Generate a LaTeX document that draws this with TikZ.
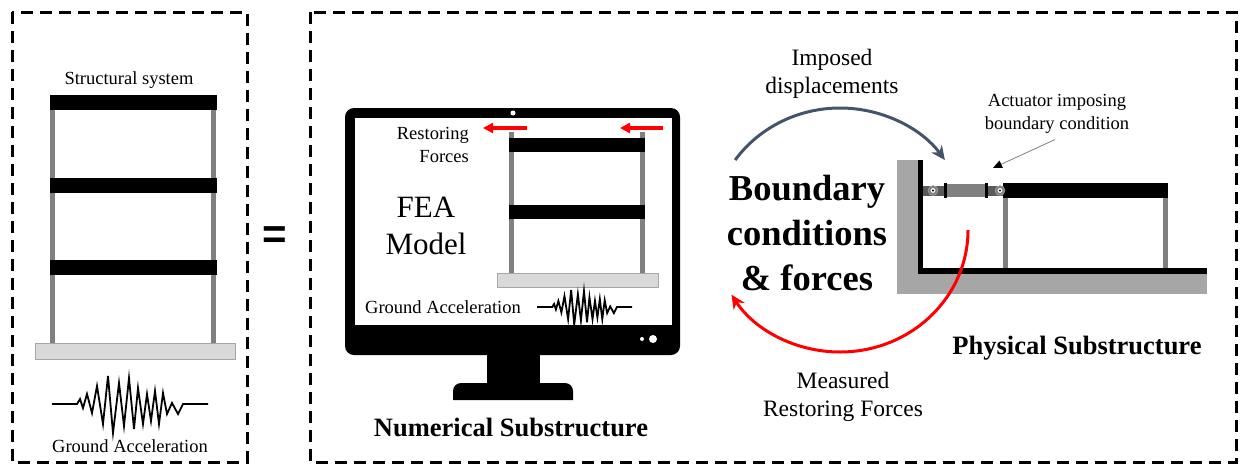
\documentclass[tikz,border=0pt]{standalone}
\usepackage{fontspec}
\setmainfont{Liberation Serif}
\setsansfont{Liberation Sans}
\usetikzlibrary{arrows.meta}

\definecolor{slateBlue}{HTML}{44546A}
\definecolor{colGray}{HTML}{808080}
\definecolor{baseGray}{HTML}{D9D9D9}
\definecolor{wallGray}{HTML}{A6A6A6}
\definecolor{rodGray}{HTML}{5A5A5A}

%% ground motion trace, drawn at (#1,#2) and scaled by #3
\newcommand{\quakeline}[3]{%
  \draw[waveLine,shift={(#1,#2)},scale=#3] plot coordinates {
    (0,0) (25,0) (28,-5) (31,4) (35,-10) (40,9) (45,-18) (51,20)
    (56,-28) (61,29) (67,-21) (72,22) (77,-26) (82,25) (86,-16)
    (91,20) (95,-10) (99,17) (103,-13) (107,20) (111,-11) (115,10)
    (120,-1) (126,10) (131,0) (156,0)};}

\begin{document}
\begin{tikzpicture}
[x=1pt,y=-1pt,
  frameBox/.style={draw,line width=3pt,dash pattern=on 12pt off 7pt},
  beam/.style={fill=black},
  column/.style={fill=colGray},
  slab/.style={fill=baseGray,draw=wallGray,line width=1pt},
  waveLine/.style={line width=1.8pt,line join=miter},
  labelText/.style={font=\fontsize{18.5}{22.5}\selectfont,align=center,inner sep=0pt},
  loopText/.style={font=\fontsize{23.5}{28}\selectfont,align=center,inner sep=0pt},
  titleText/.style={font=\bfseries\fontsize{26.5}{30}\selectfont,inner sep=0pt},
  forceArrow/.style={-{Triangle[length=10pt,width=10pt]},line width=3.5pt,red},
  dispArrow/.style={-{Stealth[length=14pt,width=13pt]},line width=3pt,slateBlue},
  measArrow/.style={-{Stealth[length=14pt,width=13pt]},line width=3pt,red},
  noteArrow/.style={-{Triangle[length=9pt,width=8pt,color=black]},line width=0.8pt,gray}]
\useasboundingbox (0,0) rectangle (1241,466);

%% dashed frames
\draw[frameBox] (12,12) rectangle (247,462);
\draw[frameBox] (310,12) rectangle (1236,462);

%% structural system
\node[labelText] (structLabel) at (129,80) {Structural system};
\foreach \x in {50,211}
{
  \fill[column] (\x,100) rectangle (\x+5,343);
}
\foreach \y in {95,178,260}
{
  \fill[beam] (50,\y) rectangle (217,\y+15);
}
\filldraw[slab] (35,343) rectangle (235,359);
\quakeline{52}{404}{1}
\node[labelText] (groundLabel) at (130,446) {Ground Acceleration};

%% equals sign
\node[font=\sffamily\bfseries\fontsize{42}{42}\selectfont,inner sep=0pt] (equals) at (275,238) {=};

%% monitor
\fill[rounded corners=9pt] (345,108) rectangle (680,355);
\fill[white] (355,118) rectangle (672,325);
\fill[white] (513,113) circle (2.5);
\fill[white] (642,339) circle (2);
\fill[white] (653,339) circle (4);
\fill (487,350) rectangle (540,386);
\fill (453,400) [rounded corners=8pt]-- (453,383) -- (573,383) [sharp corners]-- (573,400) -- cycle;

%% model on the screen
\foreach \x in {509,640}
{
  \fill[column] (\x,132) rectangle (\x+5,273);
}
\foreach \y in {138,205}
{
  \fill[beam] (509,\y) rectangle (645,\y+14);
}
\filldraw[slab] (497,273) rectangle (658,287);
\foreach \tail/\tip in {527/483, 663/620}
{
  \coordinate (ft\tail) at (\tail,128);
  \coordinate (fh\tail) at (\tip,128);
  \draw[forceArrow] (ft\tail) -- (fh\tail);
}
\node[labelText,align=right,anchor=east] (restLabel) at (469,145) {Restoring\\Forces};
\node[font=\fontsize{31}{37}\selectfont,align=center,inner sep=0pt] (feaLabel) at (426,226) {FEA\\Model};
\node[labelText] (screenGround) at (443,307) {Ground Acceleration};
\quakeline{537}{307}{0.61}
\node[titleText] (numLabel) at (511,427) {Numerical Substructure};

%% exchange loop
\node[font=\bfseries\fontsize{36.5}{45}\selectfont,align=center,inner sep=0pt] (bcLabel) at (807,233) {Boundary\\conditions\\\& forces};
\node[loopText] (imposedLabel) at (832,74) {Imposed\\displacements};
\node[loopText] (measuredLabel) at (843,397) {Measured\\Restoring Forces};
\coordinate (loop) at (840,230);
\draw[dispArrow] (loop) ++(-145:128 and 122) arc[start angle=-145,end angle=-35,x radius=128,y radius=122];

%% physical substructure
\fill[wallGray] (897,160) rectangle (920,294);
\fill[wallGray] (897,273) rectangle (1207,294);
\fill (918,160) rectangle (923,273);
\fill (918,268) rectangle (1207,274);
\foreach \x in {1003,1163}
{
  \fill[column] (\x,198) rectangle (\x+5,268);
}
\fill[beam] (1003,183) rectangle (1168,198);
%% actuator
\fill[rodGray] (923,186) rectangle (946,196);
\fill[rodGray] (986,186) rectangle (1003,196);
\fill[colGray] (946,184) rectangle (986,197);
\foreach \x in {944,985}
{
  \fill (\x,183) rectangle (\x+3,198);
}
\foreach \x in {933,1000}
{
  \filldraw[fill=colGray,draw=gray!60] (\x,190.5) circle (5);
  \fill[white] (\x,190.5) circle (2.4);
  \fill (\x,190.5) circle (1.1);
}
\node[labelText] (actLabel) at (1057,114) {Actuator imposing\\boundary condition};
\coordinate (actTip) at (993,168);
\draw[noteArrow] ([xshift=-2pt,yshift=-6pt]actLabel.south) -- (actTip);
\node[titleText] (physLabel) at (1077,348) {Physical Substructure};

%% returning forces
\draw[measArrow] (loop) ++(0:128 and 122) arc[start angle=0,end angle=148,x radius=128,y radius=122];
\end{tikzpicture}
\end{document}
